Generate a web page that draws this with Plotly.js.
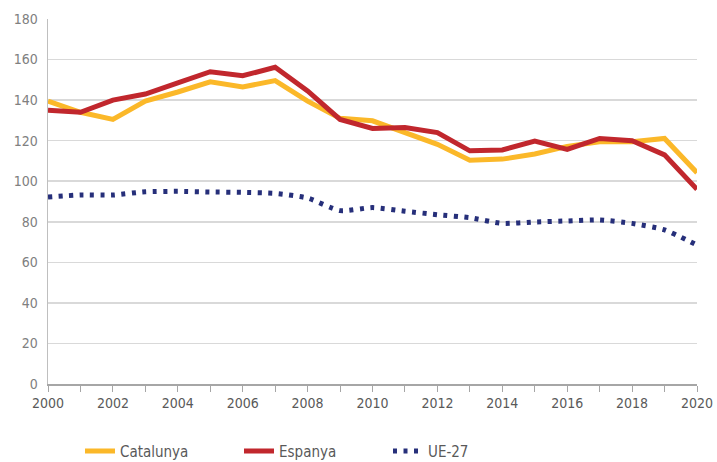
<!DOCTYPE html>
<html><head><meta charset="utf-8">
<script src="https://cdn.plot.ly/plotly-3.0.1.min.js"></script>
<style>html,body{margin:0;padding:0;background:#fff}#chart{width:717px;height:462px}</style>
</head><body><div id="chart"></div>
<script>
const years = [2000,2001,2002,2003,2004,2005,2006,2007,2008,2009,2010,2011,2012,2013,2014,2015,2016,2017,2018,2019,2020];
const catalunya = [139.5,134,130.5,139.5,144,149,146.5,149.6,139.5,131,129.8,124,118.2,110.3,110.9,113.4,117.2,119.5,119.5,121.1,104.2];
const espanya = [135,134,140,143,148.5,154,152,156.2,144.5,130.5,126,126.5,124,115,115.4,119.8,115.7,121.1,120,113,96];
const ue27 = [92.2,93.2,93.2,94.8,95,94.7,94.5,94,91.7,85.5,87,85.2,83.5,82,79.2,79.9,80.4,80.9,79.2,76,68.5];
const seriesNames = ['Catalunya','Espanya','UE-27'];
const xTickText = years.map(y => (y % 2 === 0 ? String(y) : ''));
const yTicks = [0,20,40,60,80,100,120,140,160,180];

const fontFam = '"Liberation Sans Narrow", "DejaVu Sans Condensed", "Open Sans", sans-serif';
const traces = [
  {x: years, y: catalunya, name: seriesNames[0], type: 'scatter', mode: 'lines', legend: 'legend',
   line: {color: '#FBB829', width: 5}},
  {x: years, y: espanya, name: seriesNames[1], type: 'scatter', mode: 'lines', legend: 'legend2',
   line: {color: '#C1272D', width: 5}},
  {x: years, y: ue27, name: seriesNames[2], type: 'scatter', mode: 'lines', legend: 'legend3',
   line: {color: '#262F7A', width: 5, dash: '4px,6.5px', shape: 'spline', smoothing: 0.6}}
];
const legBase = {orientation: 'h', xanchor: 'left', y: -0.139, yanchor: 'top',
                 font: {size: 15, color: '#595959'}, itemwidth: 30, bgcolor: 'rgba(0,0,0,0)'};
const layout = {
  width: 717, height: 462,
  margin: {l: 48, r: 20, t: 19, b: 78, autoexpand: false},
  paper_bgcolor: '#fff', plot_bgcolor: '#fff',
  font: {family: fontFam, color: '#595959', size: 14},
  showlegend: true,
  legend: Object.assign({}, legBase, {x: 0.0493}),
  legend2: Object.assign({}, legBase, {x: 0.2943}),
  legend3: Object.assign({}, legBase, {x: 0.5239}),
  xaxis: {range: [2000, 2020], tickvals: years, ticktext: xTickText, ticks: 'outside', ticklen: 6,
          tickcolor: '#a6a6a6', tickwidth: 1, showline: true, linecolor: '#a6a6a6', linewidth: 1.5,
          showgrid: false, zeroline: false, tickfont: {size: 14, color: '#595959'}, fixedrange: true},
  yaxis: {range: [0, 180], tickvals: yTicks, showline: true, linecolor: '#bfbfbf', linewidth: 1.5,
          gridcolor: '#d9d9d9', gridwidth: 1.5, zeroline: false, ticks: '', ticklabelstandoff: 6,
          tickfont: {size: 14, color: '#808080'}, fixedrange: true}
};
Plotly.newPlot('chart', traces, layout, {displayModeBar: false, staticPlot: true});
</script></body></html>
